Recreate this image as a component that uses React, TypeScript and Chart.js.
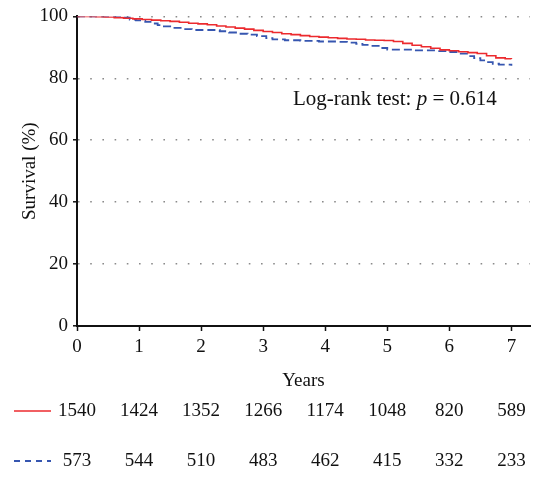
import React, { useEffect, useRef } from "react";
import { Chart, registerables } from "chart.js";

Chart.register(...registerables);

// Kaplan–Meier estimates (years, survival %)
const groupATimes = [0, 0.15, 0.3, 0.45, 0.6, 0.75, 0.9, 1.05, 1.2, 1.35, 1.5, 1.65, 1.8, 1.95, 2.1, 2.25, 2.4, 2.55, 2.7, 2.85, 3.0, 3.15, 3.3, 3.45, 3.6, 3.75, 3.9, 4.05, 4.2, 4.35, 4.5, 4.65, 4.8, 4.95, 5.1, 5.25, 5.4, 5.55, 5.7, 5.85, 6.0, 6.15, 6.3, 6.45, 6.6, 6.75, 6.9, 7.0];
const groupASurvival = [100, 100, 99.9, 99.8, 99.6, 99.4, 99.2, 99.0, 98.8, 98.6, 98.4, 98.1, 97.8, 97.6, 97.3, 96.9, 96.6, 96.2, 95.9, 95.5, 95.1, 94.8, 94.4, 94.1, 93.8, 93.5, 93.3, 93.1, 92.9, 92.7, 92.6, 92.4, 92.3, 92.2, 91.9, 91.3, 90.7, 90.2, 89.7, 89.2, 88.9, 88.6, 88.3, 88.0, 87.3, 86.6, 86.3, 86.2];

const groupBTimes = [0, 0.6, 0.75, 0.85, 0.95, 1.1, 1.2, 1.3, 1.4, 1.55, 1.7, 1.85, 2.3, 2.45, 2.6, 2.75, 2.9, 3.05, 3.15, 3.35, 3.6, 3.9, 4.2, 4.35, 4.5, 4.6, 4.7, 4.9, 5.0, 5.4, 5.8, 6.0, 6.15, 6.3, 6.4, 6.5, 6.6, 6.7, 6.8, 7.0];
const groupBSurvival = [100, 100, 99.7, 99.0, 98.7, 98.2, 97.7, 97.2, 96.8, 96.3, 95.9, 95.6, 95.2, 94.8, 94.4, 94.1, 93.6, 93.0, 92.6, 92.3, 92.1, 91.9, 91.8, 91.5, 91.1, 90.8, 90.5, 89.8, 89.3, 89.0, 88.8, 88.5, 88.0, 87.2, 86.5, 85.8, 85.2, 84.7, 84.4, 84.1];

// Number at risk at each whole year
const riskYears = [0, 1, 2, 3, 4, 5, 6, 7];
const groupAAtRisk = [1540, 1424, 1352, 1266, 1174, 1048, 820, 589];
const groupBAtRisk = [573, 544, 510, 483, 462, 415, 332, 233];

const yTicks = [0, 20, 40, 60, 80, 100];

const RED = "#ec2a2e";
const BLUE = "#3656b0";
const SERIF = "'Liberation Serif', 'Times New Roman', serif";
const FONT_SIZE = 19;

const toPoints = (xs: number[], ys: number[]) => xs.map((x, i) => ({ x, y: ys[i] }));

const extrasPlugin = {
  id: "kmExtras",
  afterDraw(chart: any) {
    const { ctx, chartArea, scales } = chart;
    const xs = scales.x;
    const ys = scales.y;
    ctx.save();

    // log-rank annotation
    ctx.fillStyle = "#111";
    ctx.textBaseline = "middle";
    ctx.textAlign = "left";
    const ay = ys.getPixelForValue(73.3);
    let ax = 293;
    const parts: [string, string][] = [
      ["Log-rank test: ", "normal"],
      ["p", "italic"],
      [" = 0.614", "normal"],
    ];
    for (const [t, style] of parts) {
      ctx.font = `${style} 21px ${SERIF}`;
      ctx.fillText(t, ax, ay);
      ax += ctx.measureText(t).width;
    }

    // number-at-risk table
    const rows = [
      { values: groupAAtRisk, color: RED, dash: [] as number[], width: 1.5, y: chartArea.bottom + 85 },
      { values: groupBAtRisk, color: BLUE, dash: [6, 5], width: 1.8, y: chartArea.bottom + 135 },
    ];
    ctx.font = `${FONT_SIZE}px ${SERIF}`;
    ctx.textAlign = "center";
    for (const row of rows) {
      ctx.strokeStyle = row.color;
      ctx.lineWidth = row.width;
      ctx.setLineDash(row.dash);
      ctx.beginPath();
      ctx.moveTo(14, row.y);
      ctx.lineTo(51, row.y);
      ctx.stroke();
      ctx.setLineDash([]);
      ctx.fillStyle = "#111";
      row.values.forEach((v, i) => {
        ctx.fillText(String(v), xs.getPixelForValue(riskYears[i]), row.y);
      });
    }
    ctx.restore();
  },
};

export default function App() {
  const canvasRef = useRef<HTMLCanvasElement>(null);

  useEffect(() => {
    if (!canvasRef.current) return;
    const chart = new Chart(canvasRef.current, {
      type: "line",
      data: {
        datasets: [
          {
            label: "Group A",
            data: toPoints(groupATimes, groupASurvival),
            borderColor: RED,
            borderWidth: 1.6,
            stepped: "before",
            pointRadius: 0,
            fill: false,
          },
          {
            label: "Group B",
            data: toPoints(groupBTimes, groupBSurvival),
            borderColor: BLUE,
            borderWidth: 1.8,
            borderDash: [8, 4],
            stepped: "before",
            pointRadius: 0,
            fill: false,
          },
        ],
      },
      options: {
        animation: false,
        responsive: false,
        layout: { padding: { top: 16, right: 14, bottom: 103, left: 0 } },
        plugins: { legend: { display: false }, tooltip: { enabled: false } },
        scales: {
          x: {
            type: "linear",
            min: 0,
            max: 7.3,
            afterFit: (s: any) => {
              s.height = 66;
            },
            ticks: {
              stepSize: 1,
              includeBounds: false,
              color: "#111",
              padding: 5,
              maxRotation: 0,
              font: { family: SERIF, size: FONT_SIZE },
            },
            grid: {
              drawOnChartArea: false,
              tickLength: 5,
              tickColor: "#111",
              tickWidth: 1.5,
            },
            border: { color: "#111", width: 2 },
            title: {
              display: true,
              text: "Years",
              color: "#111",
              font: { family: SERIF, size: FONT_SIZE },
              padding: { top: 11, bottom: 0 },
            },
          },
          y: {
            min: 0,
            max: 100,
            afterFit: (s: any) => {
              s.width = 77;
            },
            afterBuildTicks: (s: any) => {
              s.ticks = yTicks.map((v) => ({ value: v }));
            },
            ticks: {
              color: "#111",
              padding: 5,
              font: { family: SERIF, size: FONT_SIZE },
            },
            grid: {
              color: (c: any) => (c.tick && c.tick.value === 0 ? "rgba(0,0,0,0)" : "#8a8a8a"),
              lineWidth: 1.6,
              tickLength: 4,
              tickColor: "#111",
              tickWidth: 1.5,
              tickBorderDash: [],
            },
            border: { color: "#111", width: 2, dash: [1.6, 10.6] },
            title: {
              display: true,
              text: "Survival (%)",
              color: "#111",
              font: { family: SERIF, size: FONT_SIZE },
              padding: { top: 19, bottom: 0 },
            },
          },
        },
      },
      plugins: [extrasPlugin],
    } as any);
    return () => chart.destroy();
  }, []);

  return (
    <div style={{ position: "fixed", left: 0, top: 0, width: 544, height: 495, background: "#fff" }}>
      <canvas ref={canvasRef} width={544} height={495} />
    </div>
  );
}
